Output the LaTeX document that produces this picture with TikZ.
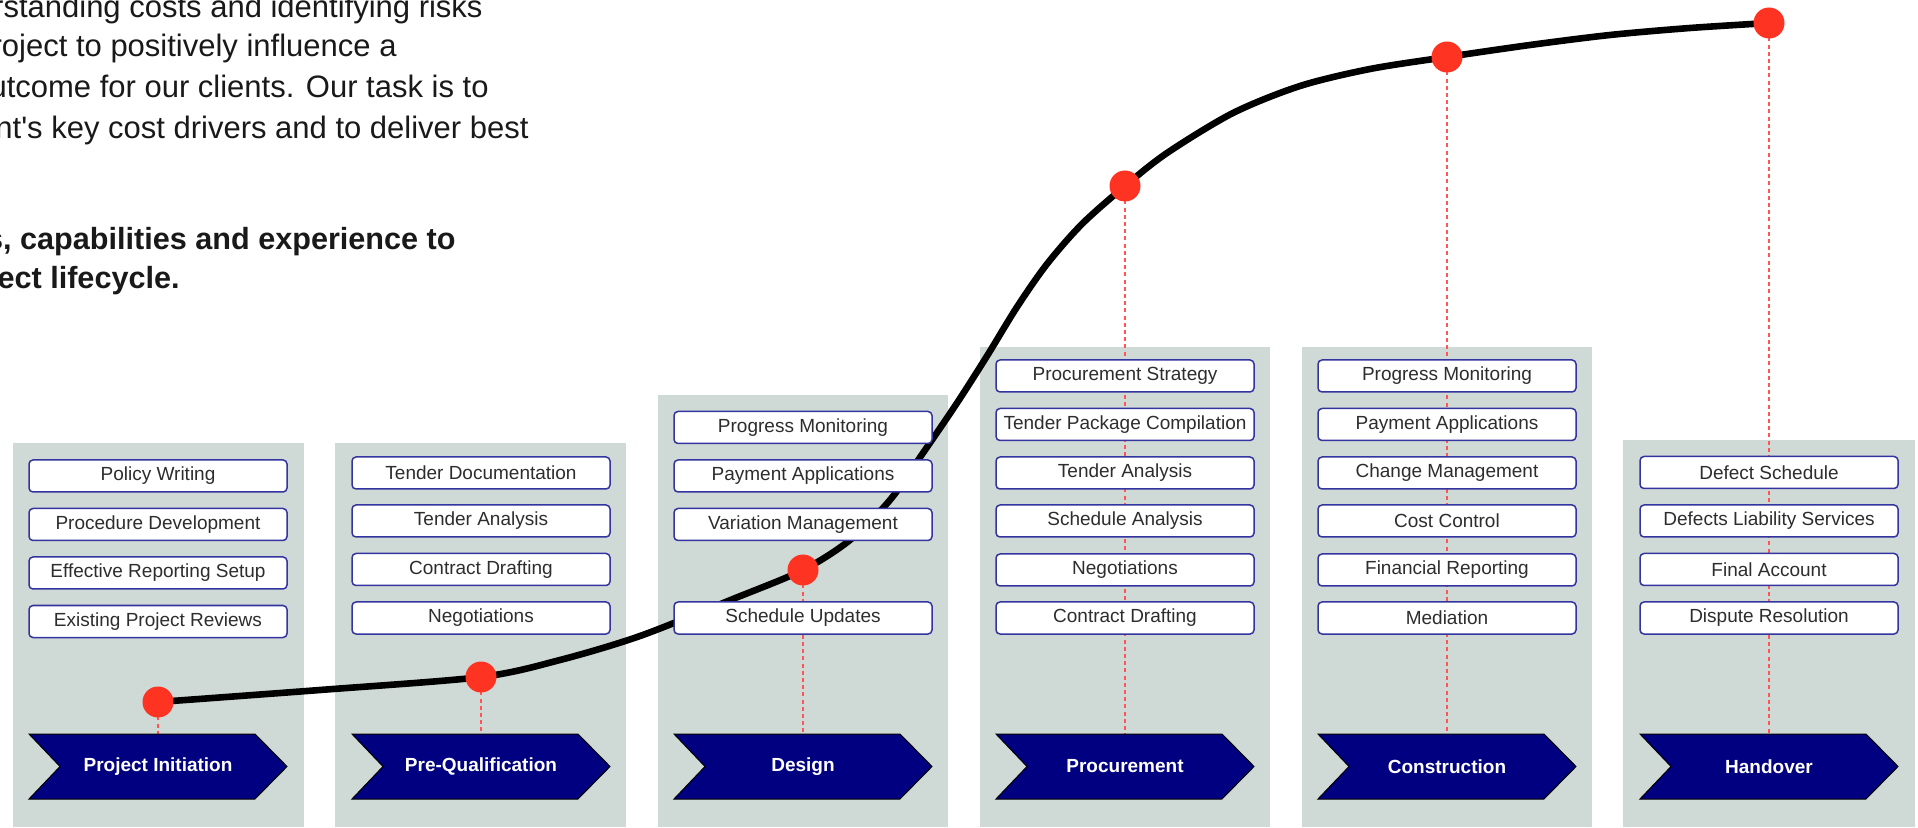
\documentclass[tikz,border=0pt]{standalone}
\usepackage{fontspec}
\setmainfont{Liberation Sans}
\definecolor{panel}{RGB}{207,217,214}
\definecolor{boxline}{RGB}{52,52,160}
\definecolor{navy}{RGB}{0,0,128}
\definecolor{dotred}{RGB}{255,51,34}
\definecolor{dashred}{RGB}{255,85,85}
\definecolor{txt}{RGB}{45,45,45}
\definecolor{introtxt}{RGB}{25,25,25}
\begin{document}
\begin{tikzpicture}[x={(0.5pt,0)}, y={(0,-0.5pt)},
  panelbox/.style={fill=panel, draw=none},
  item/.style={draw=boxline, line width=0.75pt, fill=white, rounded corners=2pt,
    minimum width=129pt, minimum height=16pt, inner sep=0pt, text=txt,
    font=\fontsize{9.5pt}{11pt}\selectfont},
  chev/.style={fill=navy, draw=black, line width=0.5pt},
  chevtext/.style={text=white, font=\bfseries\fontsize{9.5pt}{11pt}\selectfont, inner sep=0pt},
  dot/.style={circle, fill=dotred, minimum size=15.5pt, inner sep=0pt},
  guide/.style={draw=dashred, line width=0.6pt, dash pattern=on 2pt off 1.6pt},
  curveline/.style={draw=black, line width=3.3pt, line cap=round, line join=round},
  intro/.style={anchor=base east, inner sep=0pt, text=introtxt, font=\fontsize{15.5pt}{19pt}\selectfont},
  introb/.style={intro, font=\bfseries\fontsize{15.3pt}{19pt}\selectfont},
]
\useasboundingbox (0,0) rectangle (1918,828);

% intro text (cut by the left page edge)
\node[intro] (t1) at (483,18) {understanding costs and identifying risks};
\node[intro] (t2) at (397,57) {project to positively influence a};
\node[intro] (t3) at (489,98) {outcome for our clients. Our task is to};
\node[intro] (t4) at (529,139) {client\textquotesingle s key cost drivers and to deliver best};
\node[introb] (t5) at (456,250) {skills, capabilities and experience to};
\node[introb] (t6) at (180,289) {project lifecycle.};

% panels
\path[panelbox] (13,443) rectangle (304,827);
\path[panelbox] (335,443) rectangle (626,827);
\path[panelbox] (658,395) rectangle (948,827);
\path[panelbox] (980,347) rectangle (1270,827);
\path[panelbox] (1302,347) rectangle (1592,827);
\path[panelbox] (1623,440) rectangle (1915,827);

% milestone coordinates
\coordinate (p1) at (158,702);
\coordinate (p2) at (481,677);
\coordinate (p3) at (803,570);
\coordinate (p4) at (1125,186);
\coordinate (p5) at (1447,57);
\coordinate (p6) at (1769,23);
\foreach \i/\cx in {1/158,2/481,3/803,4/1125,5/1447,6/1769}{
  \coordinate (q\i) at (\cx,734);
  \draw[guide] (p\i) -- (q\i);
}

% curve
\draw[curveline] plot[smooth, tension=0.5] coordinates {
 (158,702) (320,690) (481,677) (560,660) (640,636) (733,599) (803,570)
 (850,540) (890,500) (923,453) (957,403) (987,356) (1017,307) (1047,264)
 (1082,224) (1125,186) (1167,153) (1233,113) (1300,86) (1370,69) (1447,57)
 (1530,45) (1610,35) (1690,28) (1769,23)};

% dots
\foreach \i in {1,...,6}{ \node[dot] (d\i) at (p\i) {}; }

% items
\node[item] (a1) at (158,476) {Policy Writing};
\node[item] (a2) at (158,524.5) {Procedure Development};
\node[item] (a3) at (158,573) {Effective Reporting Setup};
\node[item] (a4) at (158,621.5) {Existing Project Reviews};

\node[item] (b1) at (481,473) {Tender Documentation};
\node[item] (b2) at (481,521) {Tender Analysis};
\node[item] (b3) at (481,569.5) {Contract Drafting};
\node[item] (b4) at (481,618) {Negotiations};

\node[item] (c1) at (803,427.5) {Progress Monitoring};
\node[item] (c2) at (803,476) {Payment Applications};
\node[item] (c3) at (803,524.5) {Variation Management};
\node[item] (c4) at (803,618) {Schedule Updates};

\node[item] (e1) at (1125,376) {Procurement Strategy};
\node[item] (e2) at (1125,424.5) {Tender Package Compilation};
\node[item] (e3) at (1125,473) {Tender Analysis};
\node[item] (e4) at (1125,521) {Schedule Analysis};
\node[item] (e5) at (1125,570) {Negotiations};
\node[item] (e6) at (1125,618) {Contract Drafting};

\node[item] (f1) at (1447,376) {Progress Monitoring};
\node[item] (f2) at (1447,424.5) {Payment Applications};
\node[item] (f3) at (1447,473) {Change Management};
\node[item] (f4) at (1447,521) {Cost Control};
\node[item] (f5) at (1447,570) {Financial Reporting};
\node[item] (f6) at (1447,618) {Mediation};

\node[item] (g1) at (1769,472.5) {Defect Schedule};
\node[item] (g2) at (1769,521) {Defects Liability Services};
\node[item] (g3) at (1769,569.5) {Final Account};
\node[item] (g4) at (1769,618) {Dispute Resolution};

% chevrons
\foreach \i/\cx/\lab in {1/158/Project Initiation,2/481/Pre-Qualification,3/803/Design,4/1125/Procurement,5/1447/Construction,6/1769/Handover}{
  \path[chev] (\cx-129,734) -- (\cx+97,734) -- (\cx+129,766.5) -- (\cx+97,799)
     -- (\cx-129,799) -- (\cx-98,766.5) -- cycle;
  \node[chevtext] (s\i) at (\cx,766.5) {\lab};
}
\end{tikzpicture}
\end{document}
